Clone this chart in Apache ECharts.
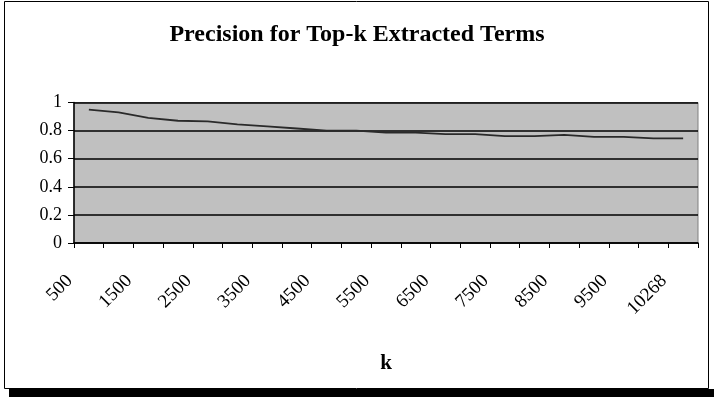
<!DOCTYPE html>
<html>
<head>
<meta charset="utf-8">
<script src="https://cdn.jsdelivr.net/npm/echarts@6/dist/echarts.min.js"></script>
<style>
  html, body { margin: 0; padding: 0; background: #ffffff; }
  #chart { width: 714px; height: 397px; }
</style>
</head>
<body>
<div id="chart"></div>
<script>
// Number of top-ranked terms considered (k)
const kValues = ['500', '1000', '1500', '2000', '2500', '3000', '3500', '4000', '4500', '5000',
                 '5500', '6000', '6500', '7000', '7500', '8000', '8500', '9000', '9500', '10000', '10268'];

// Precision measured at each k
const precision = [0.95, 0.93, 0.89, 0.87, 0.865, 0.845, 0.83, 0.815, 0.80, 0.80,
                   0.785, 0.785, 0.775, 0.775, 0.76, 0.76, 0.77, 0.755, 0.755, 0.745, 0.745];

const titleText = 'Precision for Top-k Extracted Terms';
const xAxisTitle = 'k';

const serif = '"Liberation Serif", "Times New Roman", serif';

const chart = echarts.init(document.getElementById('chart'), null, { renderer: 'canvas' });

chart.setOption({
  animation: false,
  backgroundColor: '#ffffff',
  textStyle: { fontFamily: serif, color: '#000' },
  title: {
    text: titleText,
    left: 'center',
    top: 18,
    textStyle: { fontFamily: serif, fontSize: 24, fontWeight: 'bold', color: '#000' }
  },
  graphic: [
    {
      type: 'rect',
      shape: { x: 4.5, y: 1.5, width: 704, height: 387 },
      style: { fill: 'none', stroke: '#000', lineWidth: 1 },
      silent: true
    },
    {
      type: 'rect',
      shape: { x: 9, y: 389, width: 705, height: 8 },
      style: { fill: '#000' },
      silent: true
    }
  ],
  grid: {
    left: 74,
    right: 16,
    top: 102.5,
    bottom: 154,
    show: true,
    backgroundColor: '#c0c0c0',
    borderColor: '#808080',
    borderWidth: 1
  },
  xAxis: {
    type: 'category',
    data: kValues,
    boundaryGap: true,
    name: xAxisTitle,
    nameLocation: 'middle',
    nameGap: 110,
    nameTextStyle: { fontFamily: serif, fontSize: 21, fontWeight: 'bold', color: '#000' },
    axisLine: { show: true, lineStyle: { color: '#000', width: 1.5 } },
    axisTick: { show: true, interval: 0, alignWithLabel: false, length: 5, lineStyle: { color: '#000', width: 1 } },
    axisLabel: {
      interval: 1,
      rotate: 45,
      margin: 16,
      padding: [0, 27, 0, 0],
      fontFamily: serif,
      fontSize: 19,
      color: '#000'
    },
    splitLine: { show: false }
  },
  yAxis: {
    type: 'value',
    min: 0,
    max: 1,
    interval: 0.2,
    axisLine: { show: true, lineStyle: { color: '#000', width: 1.5 } },
    axisTick: { show: true, length: 6, lineStyle: { color: '#000', width: 1 } },
    axisLabel: { margin: 12, fontFamily: serif, fontSize: 18, color: '#000' },
    splitLine: { show: true, lineStyle: { color: '#000', width: 1.5 } }
  },
  series: [
    {
      type: 'line',
      data: precision,
      symbol: 'none',
      lineStyle: { color: '#2a2a2a', width: 1.8 },
      z: 3
    }
  ]
});
</script>
</body>
</html>
